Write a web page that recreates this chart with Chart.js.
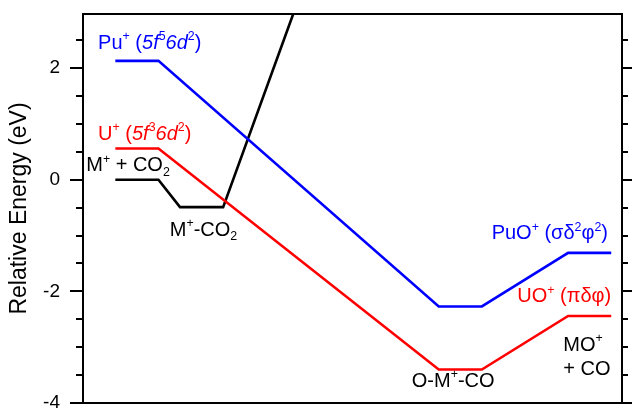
<!DOCTYPE html>
<html>
<head>
<meta charset="utf-8">
<script src="https://cdn.jsdelivr.net/npm/chart.js@4.4.0/dist/chart.umd.min.js"></script>
<style>
  html, body { margin: 0; padding: 0; background: #fff; }
  #wrap { width: 632px; height: 409px; }
</style>
</head>
<body>
<div id="wrap"><canvas id="grafico" width="632" height="409"></canvas></div>
<script>
// reaction coordinate positions (arbitrary units)
const posMO = [0.6, 1.4, 6.6, 7.4, 9.0, 9.8];
const puEnergy = [2.13, 2.13, -2.27, -2.27, -1.31, -1.31];
const uEnergy = [0.56, 0.56, -3.40, -3.40, -2.44, -2.44];
// M+ + CO2 -> M+-CO2 and then up out of the frame
const posM = [0.6, 1.4, 1.8, 2.6, 3.9];
const mEnergy = [0, 0, -0.49, -0.49, 2.97];

// labels: [x, y, align, color, runs]
const rotulos = [
  [0.28, 2.35, 'left', '#0000ff', [['Pu', ''], ['+', 'sup'], [' (', ''], ['5f', 'i'], ['5', 'sup'], ['6d', 'i'], ['2', 'sup'], [')', '']]],
  [0.28, 0.72, 'left', '#ff0000', [['U', ''], ['+', 'sup'], [' (', ''], ['5f', 'i'], ['3', 'sup'], ['6d', 'i'], ['2', 'sup'], [')', '']]],
  [0.06, 0.15, 'left', '#000', [['M', ''], ['+', 'sup'], [' + CO', ''], ['2', 'sub']]],
  [1.61, -1.00, 'left', '#000', [['M', ''], ['+', 'sup'], ['-CO', ''], ['2', 'sub']]],
  [9.74, -1.07, 'right', '#0000ff', [['PuO', ''], ['+', 'sup'], [' (σδ', ''], ['2', 'sup'], ['φ', ''], ['2', 'sup'], [')', '']]],
  [9.80, -2.19, 'right', '#ff0000', [['UO', ''], ['+', 'sup'], [' (πδφ)', '']]],
  [8.91, -3.06, 'left', '#000', [['MO', ''], ['+', 'sup']]],
  [8.91, -3.49, 'left', '#000', [['+ CO', '']]],
  [6.10, -3.71, 'left', '#000', [['O-M', ''], ['+', 'sup'], ['-CO', '']]]
];

const fonte = "'Liberation Sans', Arial, sans-serif";

function pares(xs, ys) {
  return xs.map((x, i) => ({x: x, y: ys[i]}));
}

function textoRico(ctx, runs, x, y, align, size, color) {
  const partes = runs.map(r => {
    let s = size, dy = 0, estilo = '';
    if (r[1] === 'sup') { s = size * 0.62; dy = -size * 0.42; }
    if (r[1] === 'sub') { s = size * 0.62; dy = size * 0.24; }
    if (r[1] === 'i') estilo = 'italic ';
    const f = estilo + s + 'px ' + fonte;
    ctx.font = f;
    return {t: r[0], f: f, dy: dy, w: ctx.measureText(r[0]).width};
  });
  let total = partes.reduce((a, p) => a + p.w, 0);
  let cx = align === 'right' ? x - total : x;
  ctx.fillStyle = color;
  ctx.textBaseline = 'alphabetic';
  ctx.textAlign = 'left';
  partes.forEach(p => {
    ctx.font = p.f;
    ctx.fillText(p.t, cx, y + p.dy);
    cx += p.w;
  });
}

const moldura = {
  id: 'moldura',
  afterDraw(chart) {
    const ctx = chart.ctx;
    const a = chart.chartArea;
    const ys = chart.scales.y;
    const xs = chart.scales.x;
    ctx.save();
    ctx.strokeStyle = '#000';
    ctx.lineWidth = 2;
    ctx.strokeRect(a.left, a.top, a.right - a.left, a.bottom - a.top);
    ys.ticks.forEach(t => {
      const v = t.value;
      if (Math.abs(v * 2 - Math.round(v * 2)) > 1e-6) return;
      const py = Math.round(ys.getPixelForValue(v));
      const maior = Math.abs(v % 2) < 1e-6;
      ctx.beginPath();
      ctx.moveTo(a.left, py);
      ctx.lineTo(a.left - (maior ? 13 : 7), py);
      ctx.moveTo(a.right, py);
      ctx.lineTo(a.right + (maior ? 11 : 6), py);
      ctx.stroke();
    });
    rotulos.forEach(r => {
      textoRico(ctx, r[4], xs.getPixelForValue(r[0]), ys.getPixelForValue(r[1]), r[2], 20, r[3]);
    });
    ctx.restore();
  }
};

let linha = document.getElementById('grafico').getContext('2d');
let graf = new Chart(linha, {
  type: 'line',
  data: {
    datasets: [{
      label: 'Pu',
      data: pares(posMO, puEnergy),
      borderColor: '#0000ff',
      borderWidth: 2.6
    }, {
      label: 'U',
      data: pares(posMO, uEnergy),
      borderColor: '#ff0000',
      borderWidth: 2.6
    }, {
      label: 'M',
      data: pares(posM, mEnergy),
      borderColor: '#000000',
      borderWidth: 2.6
    }]
  },
  options: {
    responsive: false,
    animation: false,
    elements: { point: { radius: 0 }, line: { tension: 0, borderJoinStyle: 'miter' } },
    layout: { padding: { top: 14, right: 10, bottom: 6, left: 0 } },
    plugins: { legend: { display: false }, tooltip: { enabled: false } },
    scales: {
      x: { type: 'linear', min: 0, max: 10, display: false },
      y: {
        min: -4, max: 2.97,
        afterFit: s => { s.width = 83; s.paddingTop = 0; s.paddingBottom = 0; },
        border: { display: false },
        grid: { display: false, drawTicks: false },
        ticks: {
          stepSize: 0.5,
          color: '#000',
          padding: 23,
          font: { size: 19, family: fonte },
          callback: v => (Math.abs(v % 2) < 1e-6 ? v : '')
        },
        title: {
          display: true,
          text: 'Relative Energy (eV)',
          color: '#000',
          font: { size: 23, family: fonte },
          padding: { top: 6, bottom: 0 }
        }
      }
    }
  },
  plugins: [moldura]
});
</script>
</body>
</html>
